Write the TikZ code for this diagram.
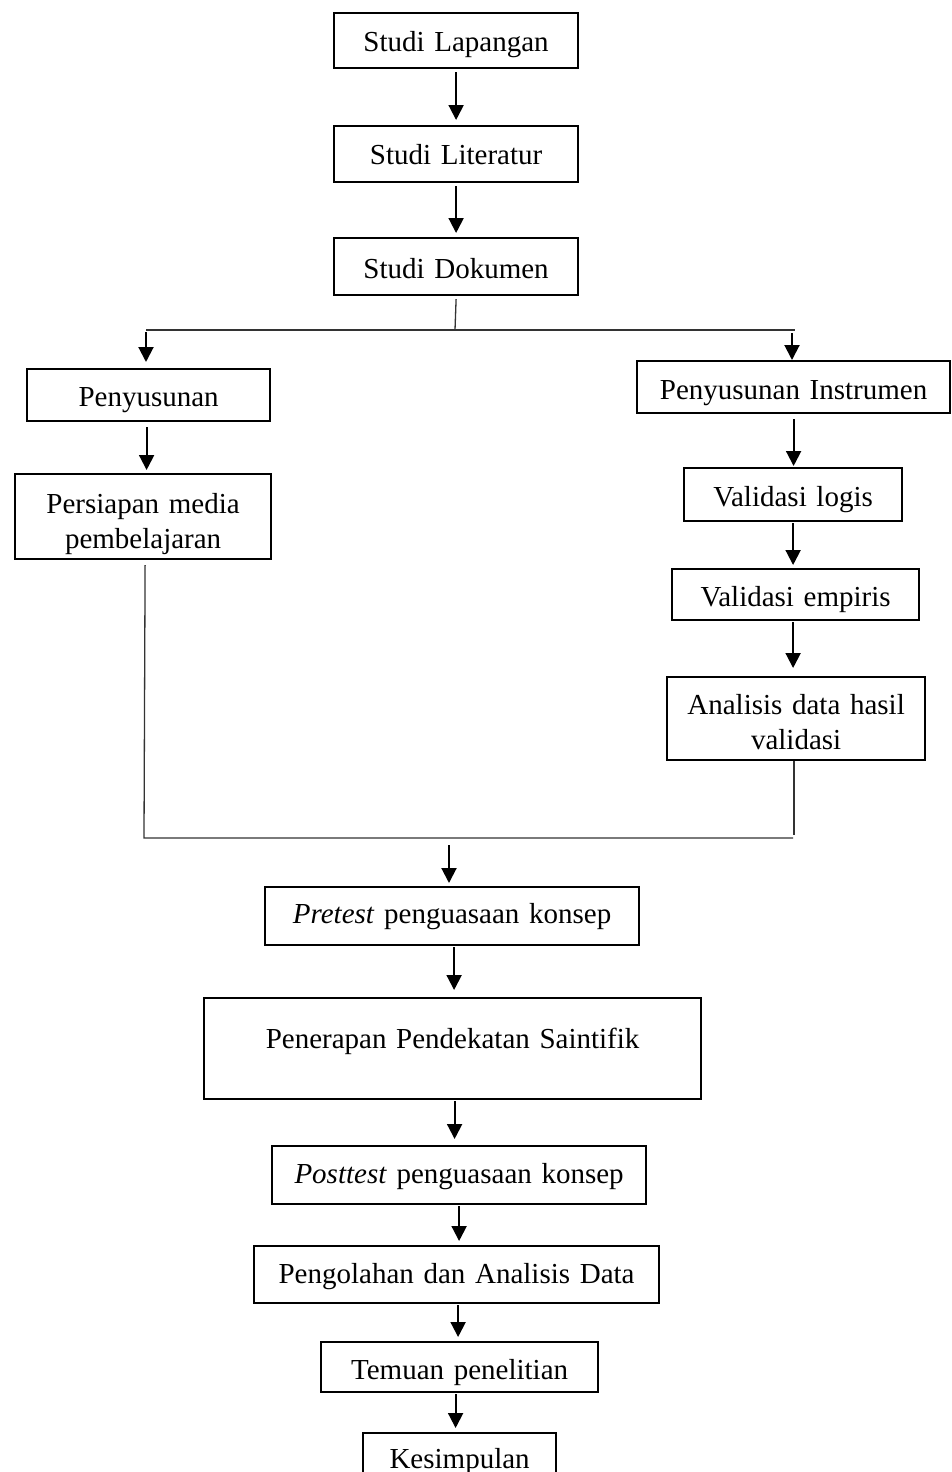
\documentclass[tikz,border=0pt]{standalone}
\usepackage{fontspec}
\setmainfont{Liberation Serif}
\usetikzlibrary{arrows.meta}
\newcommand{\flowbox}[7]{%
  \pgfmathsetmacro\bw{#4-#2}%
  \pgfmathsetmacro\bh{#6-#3}%
  \pgfmathsetmacro\bd{#5-#6}%
  \node[box, text width=\bw pt, text height=\bh pt, text depth=\bd pt] (#1) at (#2,#3) {#7};}
\begin{document}
\begin{tikzpicture}[x=1pt,y=-1pt,
  box/.style={draw=black, line width=2.2pt, inner sep=0pt, anchor=north west, align=center,
    font=\fontsize{29}{35}\selectfont},
  arr/.style={draw=black, line width=2pt, -{Triangle[length=15pt,width=15pt]}},
  ln/.style={draw=black!80, line width=1.3pt}]
\useasboundingbox[fill=white] (0,0) rectangle (951,1472);

\flowbox{sl}{333}{12}{577}{67}{50}{Studi Lapangan}
\flowbox{lit}{333}{125}{577}{181}{163}{Studi Literatur}
\flowbox{dok}{333}{237}{577}{294}{277}{Studi Dokumen}
\flowbox{pen}{26}{368}{269}{420}{405}{Penyusunan}
\flowbox{per}{14}{473}{270}{558}{512}{Persiapan media\\pembelajaran}
\flowbox{ins}{636}{360}{949}{412}{398}{Penyusunan Instrumen}
\flowbox{vl}{683}{467}{901}{520}{505}{Validasi logis}
\flowbox{ve}{671}{568}{918}{619}{605}{Validasi empiris}
\flowbox{an}{666}{676}{924}{759}{713}{Analisis data hasil\\validasi}
\flowbox{pre}{264}{886}{638}{944}{922}{\textit{Pretest} penguasaan konsep}
\flowbox{ptr}{203}{997}{700}{1098}{1047}{Penerapan Pendekatan Saintifik}
\flowbox{post}{271}{1145}{645}{1203}{1182}{\textit{Posttest} penguasaan konsep}
\flowbox{peng}{253}{1245}{658}{1302}{1282}{Pengolahan dan Analisis Data}
\flowbox{tem}{320}{1341}{597}{1391}{1378}{Temuan penelitian}
\flowbox{kes}{362}{1432}{555}{1484}{1467}{Kesimpulan}

% top chain
\draw[arr, shorten <=3pt, shorten >=5pt] (sl.south) -- (lit.north);
\draw[arr, shorten <=3pt, shorten >=4pt] (lit.south) -- (dok.north);

% branch
\coordinate (j1) at (455,330);
\coordinate (bl) at (146,330);
\coordinate (br) at (795,330);
\draw[ln] ([yshift=-3pt]dok.south) -- (j1);
\draw[ln] (bl) -- (br);
\draw[arr, shorten >=6pt] ([yshift=-2pt]bl) -- (bl |- pen.north);
\draw[arr, shorten >=0pt] ([xshift=-3pt,yshift=-3pt]br) -- ([xshift=-3pt]br |- ins.north);

% left column
\draw[arr, shorten <=5pt, shorten >=3pt] ([xshift=-2pt]pen.south) -- ([xshift=-2pt]pen.south |- per.north);

% right column
\draw[arr, shorten <=5pt, shorten >=1pt] (ins.south) -- (ins.south |- vl.north);
\draw[arr, shorten <=1pt, shorten >=3pt] (vl.south) -- (vl.south |- ve.north);
\draw[arr, shorten <=1pt, shorten >=8pt] (vl.south |- ve.south) -- (vl.south |- an.north);

% merge
\coordinate (jl) at (144,838);
\coordinate (jr) at (793,838);
\draw[ln] ([xshift=2pt,yshift=-5pt]per.south) -- (jl) -- (jr);
\draw[ln] ([xshift=-2pt]an.south) -- ([xshift=-2pt,yshift=3pt]an.south |- jr);
\coordinate (jm) at (449,845);
\draw[arr, shorten >=3pt] (jm) -- (jm |- pre.north);

% bottom chain
\draw[arr, shorten <=1pt, shorten >=7pt] ([xshift=2pt]pre.south) -- ([xshift=2pt]pre.south |- ptr.north);
\draw[arr, shorten <=1pt, shorten >=6pt] ([xshift=2pt]ptr.south) -- ([xshift=2pt]ptr.south |- post.north);
\draw[arr, shorten <=1pt, shorten >=4pt] (post.south) -- (post.south |- peng.north);
\draw[arr, shorten <=1pt, shorten >=4pt] ([xshift=-1pt]post.south |- peng.south) -- ([xshift=-1pt]post.south |- tem.north);
\draw[arr, shorten <=1pt, shorten >=4pt] ([xshift=-4pt]tem.south) -- ([xshift=-4pt]tem.south |- kes.north);
\end{tikzpicture}
\end{document}
